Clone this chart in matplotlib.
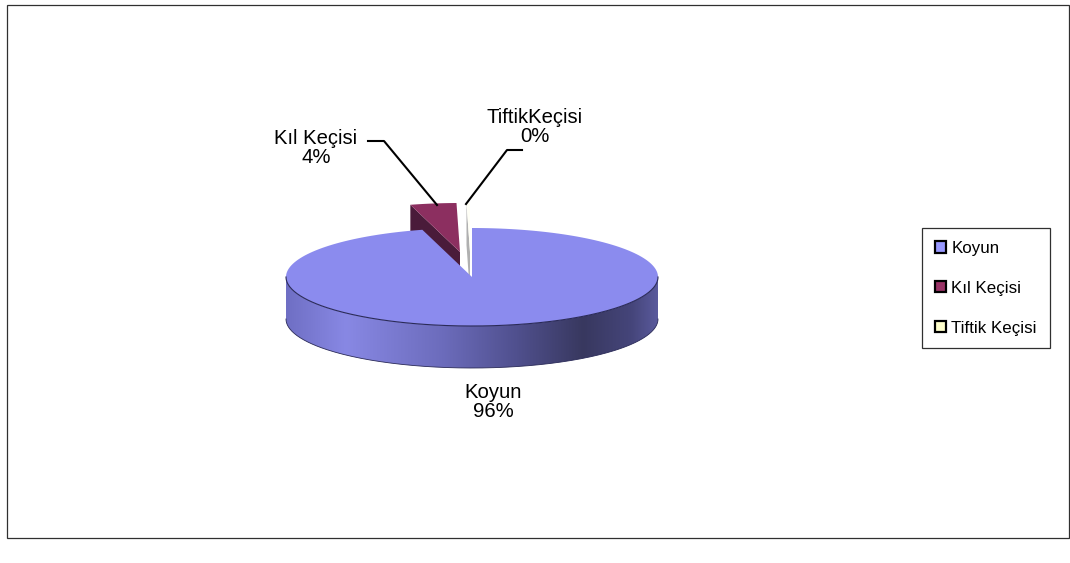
import numpy as np
import matplotlib
matplotlib.use("Agg")
import matplotlib.pyplot as plt
from matplotlib.colors import LinearSegmentedColormap
from matplotlib.patches import Patch, Polygon, Rectangle

plt.rcParams["font.family"] = ["Liberation Sans", "DejaVu Sans"]

# share of each animal type, percent
categories = ["Koyun", "Kıl Keçisi", "Tiftik Keçisi"]
slice_labels = ["Koyun", "Kıl Keçisi", "TiftikKeçisi"]
shares = [95.7, 4.0, 0.3]

W, H = 1070, 563
CX, CY, RX, RY, DEPTH = 472, 277, 186, 49, 42
# offset of the pulled out slices
KIL_OFF = (-12, -25)
TIF_OFF = (-2, -25)

SWATCH = ["#9999FF", "#993366", "#FFFFCC"]
TOP = "#8B8BEE"


def ell(t):
    # t in degrees clockwise from 12 o'clock, y axis points down
    r = np.radians(t)
    return np.column_stack([CX + RX * np.sin(r), CY - RY * np.cos(r)])


def top_face(t0, t1, off=(0, 0)):
    arc = ell(np.linspace(t0, t1, 200))
    pts = np.vstack([[CX, CY], arc]) + off
    return pts


fig = plt.figure(figsize=(W / 100, H / 100), dpi=100)
ax = fig.add_axes([0, 0, 1, 1])
ax.set_xlim(0, W)
ax.set_ylim(H, 0)
ax.axis("off")

ax.add_patch(Rectangle((7, 5), 1062, 533, fc="white", ec="#303030", lw=0.9))

ang = np.cumsum([0] + shares) * 3.6
koyun_end, kil_end = ang[1], ang[2]

# Kil Kecisi slice, behind the big one
kil_top = top_face(koyun_end, kil_end, KIL_OFF)
edge = kil_top[1]
apex = kil_top[0]
ax.add_patch(Polygon([edge, apex, apex + (0, DEPTH), edge + (0, DEPTH)],
                     fc="#4A1B3A", ec="none", zorder=2))
ax.add_patch(Polygon(kil_top, fc="#8C2F60", ec="none", zorder=3))

# Tiftik slice, just a thin white sliver
tif_top = top_face(kil_end, 360, TIF_OFF)
edge = tif_top[1]
apex = tif_top[0]
ax.add_patch(Polygon([edge, apex, apex + (0, DEPTH), edge + (0, DEPTH)],
                     fc="#B0B0B0", ec="none", zorder=2))
ax.add_patch(Polygon(tif_top, fc="#FFFFF6", ec="none", zorder=3))

# Koyun side wall with shading
t = np.linspace(90, 270, 200)
front = ell(t)
wall = np.vstack([front, front[::-1] + (0, DEPTH)])
wall_patch = Polygon(wall, fc="none", ec="none", zorder=4)
ax.add_patch(wall_patch)
shade = LinearSegmentedColormap.from_list("wall", [
    (0.0, "#6F6FC4"), (0.16, "#8888E4"), (0.42, "#6C6CBC"),
    (0.62, "#50508E"), (0.8, "#38385F"), (0.93, "#45457A"), (1.0, "#5A5A9C")])
im = ax.imshow(np.linspace(0, 1, 256)[None, :], cmap=shade, aspect="auto", zorder=4,
               extent=(CX - RX, CX + RX, CY + RY + DEPTH, CY - RY))
im.set_clip_path(wall_patch)
ax.set_xlim(0, W)
ax.set_ylim(H, 0)

# Koyun top
ax.add_patch(Polygon(top_face(0, koyun_end), fc=TOP, ec="none", zorder=5))
ax.plot(front[:, 0], front[:, 1], color="#2A2A58", lw=0.8, zorder=6)
ax.plot(front[:, 0], front[:, 1] + DEPTH, color="#2A2A58", lw=0.6, zorder=6)

# leader lines
ax.plot([368, 384, 437], [141, 141, 205], color="black", lw=1.5, zorder=7)
ax.plot([522, 507, 466], [150, 150, 204], color="black", lw=1.5, zorder=7)

pct = [f"{s:.0f}%" for s in shares]
FS = 14.6
ax.text(493, 402, f"{slice_labels[0]}\n{pct[0]}", ha="center", va="center", fontsize=FS,
        linespacing=1.0, color="black")
ax.text(316, 148, f"{slice_labels[1]}\n{pct[1]}", ha="center", va="center", fontsize=FS,
        linespacing=1.0, color="black")
ax.text(535, 127, f"{slice_labels[2]}\n{pct[2]}", ha="center", va="center", fontsize=FS,
        linespacing=1.0, color="black")

# legend
handles = [Patch(fc=c, ec="black", lw=1.6) for c in SWATCH]
leg = ax.legend(handles, categories, loc="upper left", bbox_to_anchor=(922, 228),
                bbox_transform=ax.transData, fontsize=12.2, handlelength=0.68, handleheight=0.68,
                handletextpad=0.3, labelspacing=1.47, borderpad=0.75, borderaxespad=0,
                fancybox=False, framealpha=1, edgecolor="#303030")
leg.get_frame().set_linewidth(0.9)
leg.set_zorder(8)

fig.savefig("out.png", dpi=100)
